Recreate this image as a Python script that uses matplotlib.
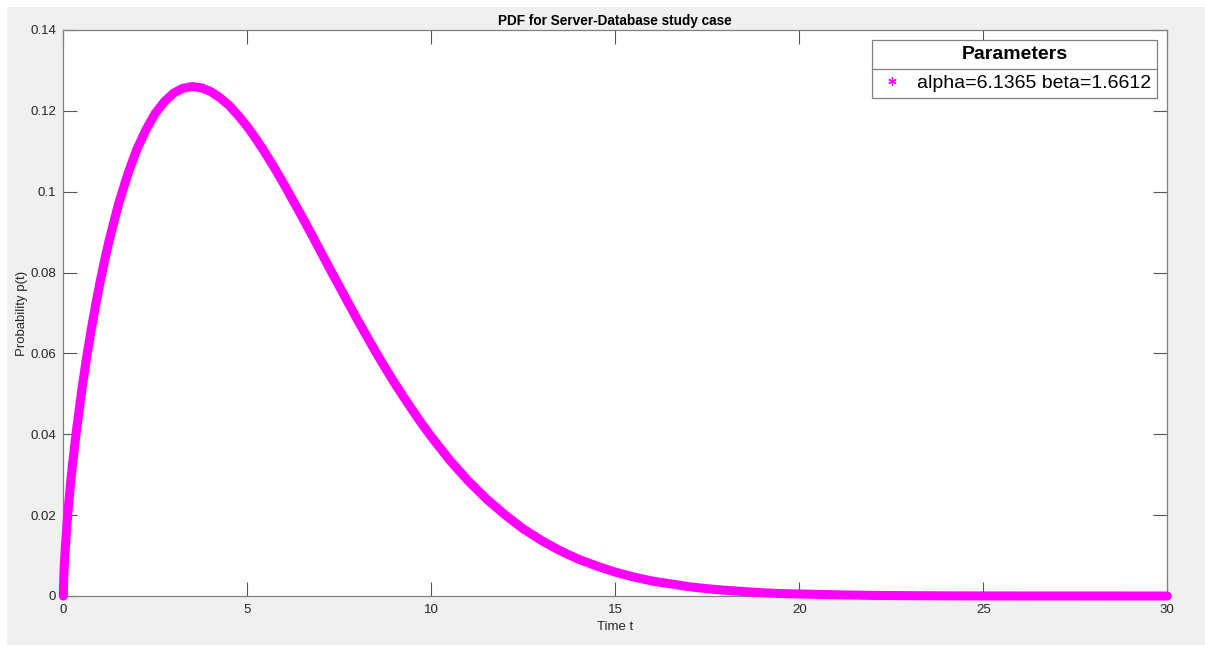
import matplotlib
matplotlib.use("Agg")
import matplotlib.pyplot as plt
from matplotlib.lines import Line2D
from matplotlib.patches import Rectangle

# Values (Weibull PDF, alpha=6.1365, beta=1.6612)
time_t = [0, 0.01, 0.02, 0.03, 0.05, 0.1, 0.125, 0.15, 0.2, 0.25, 0.35, 0.5,
          0.625, 0.75, 0.875, 1, 1.125, 1.25, 1.5, 1.75, 2, 2.25, 2.5, 2.75,
          3, 3.25, 3.5, 3.75, 4, 4.25, 4.5, 4.75, 5, 5.25, 5.5, 5.75, 6, 6.25,
          6.5, 6.75, 7, 7.25, 7.5, 7.75, 8, 8.25, 8.5, 8.75, 9, 9.25, 9.5,
          9.75, 10, 10.5, 11, 11.5, 12, 12.5, 13, 13.5, 14, 14.5, 15, 15.5,
          16, 16.5, 17, 17.5, 18, 18.5, 19, 19.5, 20, 21, 22, 23, 24, 25, 26,
          27, 28, 29, 30]
prob_pt = [0.0, 0.0039, 0.0061, 0.0080, 0.0113, 0.0178, 0.0206, 0.0232,
           0.0281, 0.0325, 0.0404, 0.0508, 0.0585, 0.0654, 0.0718, 0.0777,
           0.0831, 0.0881, 0.0969, 0.1043, 0.1105, 0.1154, 0.1194, 0.1223,
           0.1244, 0.1256, 0.1260, 0.1257, 0.1248, 0.1233, 0.1214, 0.1189,
           0.1161, 0.1129, 0.1094, 0.1057, 0.1018, 0.0977, 0.0936, 0.0894,
           0.0851, 0.0808, 0.0766, 0.0724, 0.0682, 0.0642, 0.0602, 0.0564,
           0.0527, 0.0492, 0.0458, 0.0425, 0.0394, 0.0336, 0.0285, 0.0240,
           0.0201, 0.0166, 0.0137, 0.0112, 0.0091, 0.0074, 0.0059, 0.0047,
           0.0037, 0.0030, 0.0023, 0.0018, 0.0014, 0.0011, 0.0008, 0.0006,
           0.0005, 0.0003, 0.00015, 0.00008, 0.00004, 0.00002, 0.00001,
           0.000006, 0.000003, 0.000001, 0.0000006]
legend_title = "Parameters"
legend_label = "alpha=6.1365 beta=1.6612"
x_ticks = [0, 5, 10, 15, 20, 25, 30]
y_ticks = [0, 0.02, 0.04, 0.06, 0.08, 0.1, 0.12, 0.14]
y_tick_labels = ["0", "0.02", "0.04", "0.06", "0.08", "0.1", "0.12", "0.14"]

plt.rcParams['font.family'] = ['Liberation Sans', 'DejaVu Sans']

W, H = 1205, 646
fig = plt.figure(figsize=(W / 100, H / 100), dpi=100, facecolor='white')
fig.patches.append(Rectangle((7 / W, 1 / H), 1 - 7 / W, 1 - 8 / H,
                             transform=fig.transFigure, facecolor='#f0f0f0',
                             edgecolor='none', zorder=-10))

ax_left, ax_right, ax_top, ax_bottom = 63.3, 1167.3, 30, 596
ax = fig.add_axes([ax_left / W, 1 - ax_bottom / H, (ax_right - ax_left) / W,
                   (ax_bottom - ax_top) / H])
ax.set_facecolor('white')

magenta = '#ff00ff'
ax.plot(time_t, prob_pt, color=magenta, lw=6.5, solid_capstyle='round',
        solid_joinstyle='round', clip_on=False, zorder=3)

ax.set_xlim(0, 30)
ax.set_ylim(0, 0.14)
ax.set_xticks(x_ticks)
ax.set_xticklabels([str(v) for v in x_ticks])
ax.set_yticks(y_ticks)
ax.set_yticklabels(y_tick_labels)
ax.tick_params(direction='in', length=10, width=0.8, color='#555555',
               labelcolor='#262626', labelsize=9.5, top=True, right=True)
ax.tick_params(axis='x', pad=6)
ax.tick_params(axis='y', pad=5)
for s in ax.spines.values():
    s.set_color('#808080')
    s.set_linewidth(0.9)

ax.set_title("PDF for Server-Database study case", fontsize=9.8,
             fontweight='bold', pad=3.5)
ax.set_xlabel("Time t", fontsize=9.5, color='#262626')
ax.set_ylabel("Probability p(t)", fontsize=9.5, color='#262626')
ax.xaxis.set_label_coords(0.5, -(627 - ax_bottom) / (ax_bottom - ax_top),
                          transform=ax.transAxes)
ax.xaxis.label.set_va('center')
ax.yaxis.set_label_coords(-(ax_left - 22) / (ax_right - ax_left), 0.5,
                          transform=ax.transAxes)
ax.yaxis.label.set_va('center')

handle = Line2D([], [], color=magenta, marker=(6, 2, 0), linestyle='none',
                markersize=6, markeredgewidth=0.9)
leg = ax.legend([handle], [legend_label], title=legend_title, loc='upper right',
                bbox_to_anchor=(1157.3 / W, 1 - 40 / H),
                bbox_transform=fig.transFigure, borderaxespad=0,
                fontsize=14, fancybox=False, framealpha=1,
                edgecolor='#808080', borderpad=0.32, handletextpad=0.6,
                handlelength=1.4, labelspacing=0.55,
                title_fontproperties={'size': 14, 'weight': 'bold'})
leg.get_frame().set_linewidth(0.9)

# separator line between the legend title and its entry
fig.canvas.draw()
lb = leg.get_window_extent()
tb = leg.get_title().get_window_extent()
eb = leg.get_texts()[0].get_window_extent()
y_sep = (tb.y0 + eb.y1) / 2
fig.add_artist(Line2D([lb.x0 / W, lb.x1 / W], [y_sep / H, y_sep / H],
                      transform=fig.transFigure, color='#808080', lw=0.9,
                      zorder=10))

fig.savefig("out.png", dpi=100, facecolor=fig.get_facecolor())
